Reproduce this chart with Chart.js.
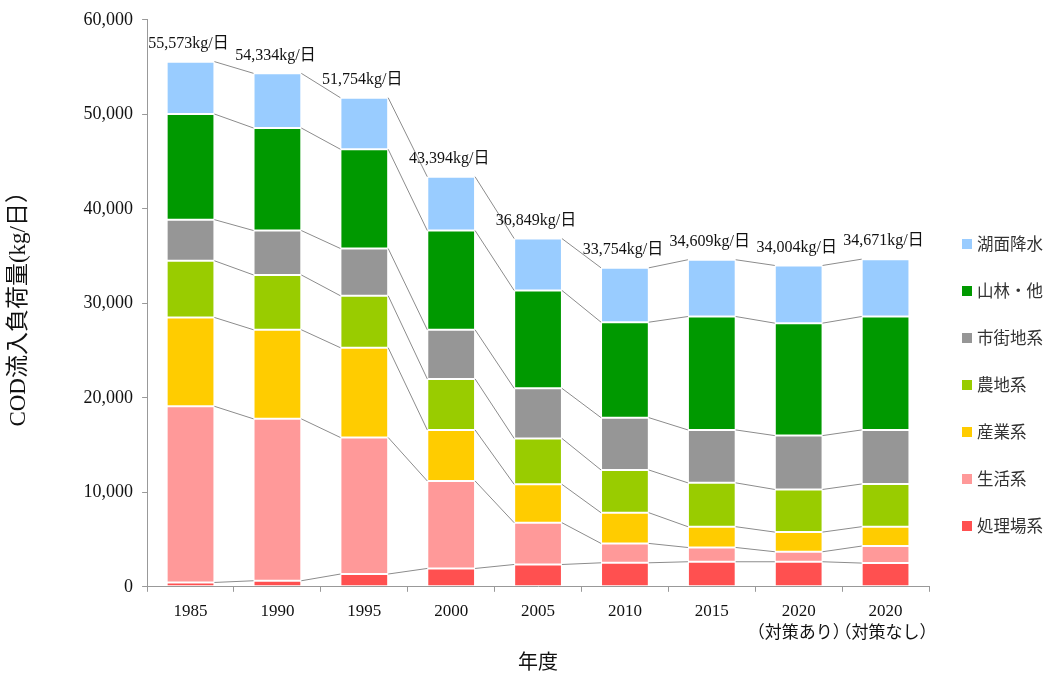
<!DOCTYPE html>
<html>
<head>
<meta charset="utf-8">
<script src="https://cdn.jsdelivr.net/npm/chart.js@4.4.1/dist/chart.umd.min.js"></script>
<style>
  html, body { margin: 0; padding: 0; background: #fff; }
  #wrap { width: 1048px; height: 673px; }
</style>
</head>
<body>
<div id="wrap"><canvas id="c"></canvas></div>
<script>
// 年度 (categories)
const years = ["1985", "1990", "1995", "2000", "2005", "2010", "2015", ["2020", "（対策あり）"], ["2020", "（対策なし）"]];

// COD流入負荷量 kg/日 (bottom -> top)
const shoriJo  = [460, 640, 1350, 1940, 2360, 2540, 2650, 2650, 2510];        // 処理場系
const seikatsu = [18640, 17130, 14450, 9260, 4420, 2050, 1510, 1060, 1800];  // 生活系
const sangyo   = [9400, 9430, 9500, 5400, 4060, 3250, 2200, 2080, 2050];     // 産業系
const nochi    = [6000, 5800, 5500, 5400, 4860, 4520, 4640, 4510, 4520];     // 農地系
const shigai   = [4350, 4700, 5000, 5200, 5300, 5540, 5600, 5700, 5720];     // 市街地系
const sanrin   = [11180, 10850, 10500, 10500, 10360, 10100, 12000, 11900, 12000]; // 山林・他
const komen    = [5543, 5784, 5454, 5694, 5489, 5754, 6009, 6104, 6071];     // 湖面降水

const yTicks = [0, 10000, 20000, 30000, 40000, 50000, 60000];

const serif = "'Liberation Serif', 'Times New Roman', 'Noto Sans CJK JP', serif";
const gothic = "'Noto Sans CJK JP', 'Noto Sans', sans-serif";

// gray lines joining the tops of the same segment in neighbouring bars
const connectors = {
  id: "connectors",
  afterDatasetsDraw(chart) {
    const ctx = chart.ctx;
    ctx.save();
    ctx.strokeStyle = "#8c8c8c";
    ctx.lineWidth = 1;
    chart.data.datasets.forEach((ds, di) => {
      const bars = chart.getDatasetMeta(di).data;
      for (let i = 0; i < bars.length - 1; i++) {
        const a = bars[i], b = bars[i + 1];
        ctx.beginPath();
        ctx.moveTo(a.x + a.width / 2, a.y);
        ctx.lineTo(b.x - b.width / 2, b.y);
        ctx.stroke();
      }
    });
    ctx.restore();
  }
};

// total labels above each bar
const totals = {
  id: "totals",
  afterDraw(chart) {
    const ctx = chart.ctx;
    const n = chart.data.datasets.length;
    const top = chart.getDatasetMeta(n - 1).data;
    ctx.save();
    ctx.font = "16px " + serif;
    ctx.fillStyle = "#111";
    ctx.textAlign = "center";
    ctx.textBaseline = "middle";
    top.forEach((bar, i) => {
      let sum = 0;
      chart.data.datasets.forEach(ds => { sum += ds.data[i]; });
      ctx.fillText(sum.toLocaleString("en-US") + "kg/日", bar.x - 2, bar.y - 18);
    });
    ctx.restore();
  }
};

// legend drawn by hand so the spacing follows the reference
const sideLegend = {
  id: "sideLegend",
  afterDraw(chart) {
    const ctx = chart.ctx;
    const ds = chart.data.datasets.slice().reverse();
    ctx.save();
    ctx.font = "16.5px " + gothic;
    ctx.textBaseline = "middle";
    ds.forEach((d, i) => {
      const y = 244 + i * 47;
      ctx.fillStyle = d.backgroundColor;
      ctx.fillRect(962, y - 5, 10, 10);
      ctx.fillStyle = "#333";
      ctx.fillText(d.label, 977, y);
    });
    ctx.restore();
  }
};

function ds(label, data, color) {
  return {
    label: label,
    data: data,
    backgroundColor: color,
    borderColor: "rgba(255,255,255,0.3)",
    borderWidth: 1,
    borderSkipped: false,
    barPercentage: 0.55,
    categoryPercentage: 1.0
  };
}

new Chart(document.getElementById("c"), {
  type: "bar",
  data: {
    labels: years,
    datasets: [
      ds("処理場系", shoriJo, "#ff5050"),
      ds("生活系", seikatsu, "#ff9999"),
      ds("産業系", sangyo, "#ffcc00"),
      ds("農地系", nochi, "#99cc00"),
      ds("市街地系", shigai, "#969696"),
      ds("山林・他", sanrin, "#009900"),
      ds("湖面降水", komen, "#99ccff")
    ]
  },
  options: {
    responsive: true,
    maintainAspectRatio: false,
    animation: false,
    layout: { padding: { left: 5, right: 119, top: 10, bottom: 0 } },
    plugins: {
      legend: { display: false },
      tooltip: { enabled: false }
    },
    scales: {
      x: {
        stacked: true,
        border: { color: "#999", width: 1 },
        grid: { display: true, drawOnChartArea: false, color: "#999", tickLength: 5, offset: true },
        ticks: { color: "#111", font: { family: serif, size: 17, lineHeight: 1.3 }, padding: 9, maxRotation: 0, autoSkip: false },
        title: { display: true, text: "年度", color: "#111", font: { family: gothic, size: 20 }, padding: { top: -5, bottom: 0 } }
      },
      y: {
        stacked: true,
        min: 0,
        max: 60000,
        afterBuildTicks(scale) { scale.ticks = yTicks.map(v => ({ value: v })); },
        border: { color: "#999", width: 1 },
        grid: { display: true, drawOnChartArea: false, color: "#999", tickLength: 5 },
        ticks: {
          color: "#111",
          font: { family: serif, size: 18 },
          padding: 9,
          callback: v => v.toLocaleString("en-US")
        },
        title: { display: true, text: "COD流入負荷量(kg/日）", color: "#111", font: { family: serif, size: 23 }, padding: { top: 0, bottom: 42 } }
      }
    }
  },
  plugins: [connectors, totals, sideLegend]
});
</script>
</body>
</html>
